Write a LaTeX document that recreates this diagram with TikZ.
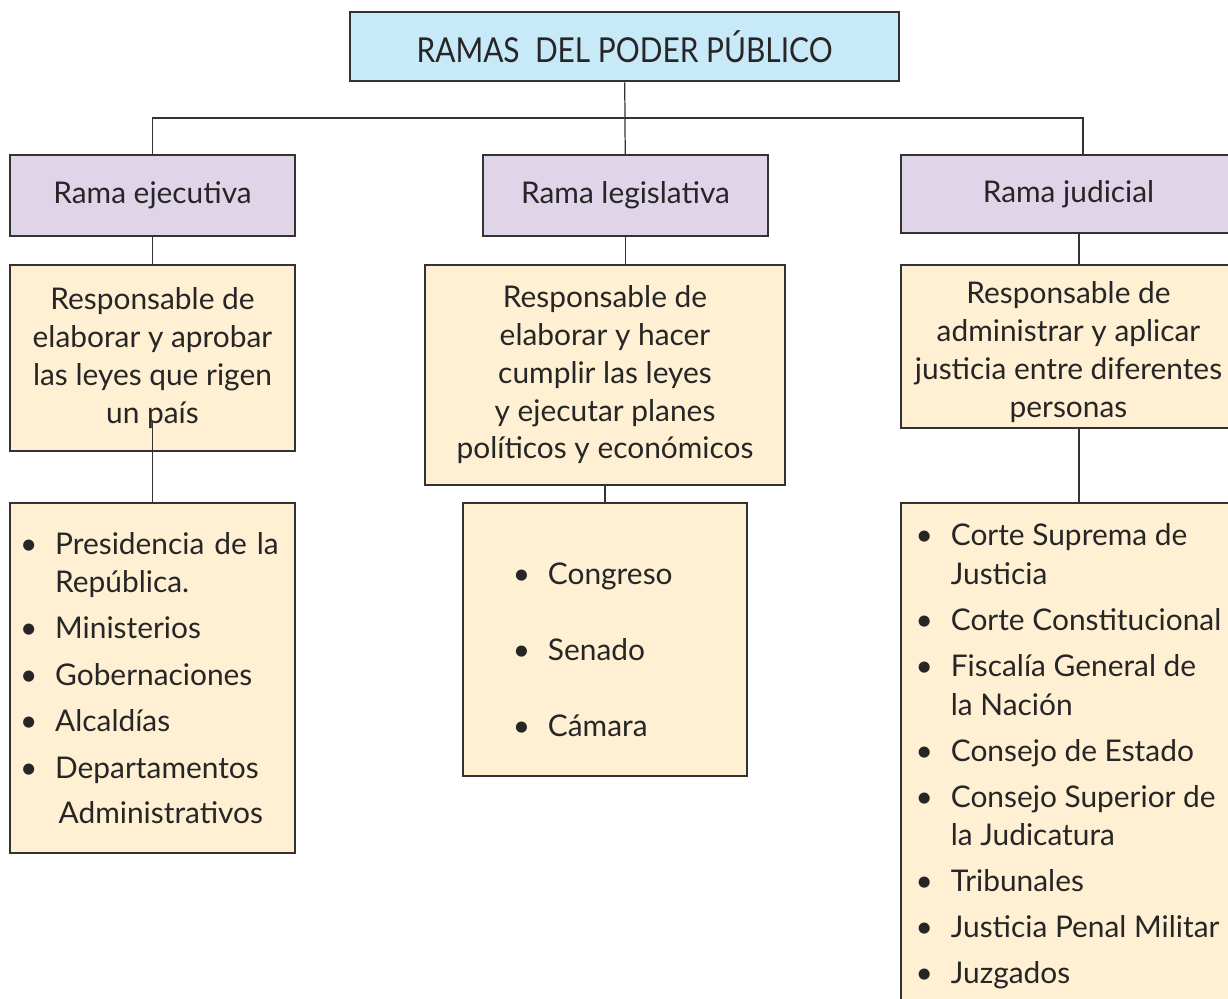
\documentclass[tikz,border=0pt]{standalone}
\usepackage{fontspec}
\setmainfont{Lato}
\usetikzlibrary{calc,positioning}

\definecolor{titleblue}{HTML}{C8E9F8}
\definecolor{ramalila}{HTML}{E0D4E8}
\definecolor{crema}{HTML}{FFEFD3}
\definecolor{borde}{HTML}{333333}

\newcommand{\itm}{\makebox[20pt][l]{\textbullet}}
\newcommand{\sangria}{\hspace*{20pt}}

\begin{document}
	\begin{tikzpicture}[x=0.02cm,y=-0.02cm]
		\tikzset{
			box/.style={draw=borde, line width=0.7pt, inner sep=0pt,
					font=\fontsize{17}{21.5}\selectfont, text=black!85},
			titlebox/.style={box, fill=titleblue, line width=1.5pt,
					minimum width=10.98cm, minimum height=1.38cm,
					font=\fontsize{17}{20}\selectfont},
			ramabox/.style={box, fill=ramalila, minimum height=1.62cm},
			descbox/.style={box, fill=crema, align=center},
			listbox/.style={box, fill=crema, align=left},
			link/.style={draw=borde, line width=0.7pt},
		}
		\clip (0,0) rectangle (1228,999);
		\fill[white] (0,0) rectangle (1228,999);
		%
		\node[titlebox] (title) at (624.5,46.5) {\scalebox{1}[1.15]{RAMAS\ \ DEL PODER PÚBLICO}};
		\coordinate (bus) at (625,118);
		%
		\node[ramabox, minimum width=5.7cm] (ejrama) at (152.5,195.5) {Rama ejecutiva};
		\node[ramabox, minimum width=5.7cm] (legrama) at (625.5,195.5) {Rama legislativa};
		\node[ramabox, minimum width=6.7cm, minimum height=1.56cm] (judrama) at (1068.5,194) {Rama judicial};
		%
		\node[descbox, minimum width=5.7cm, minimum height=3.72cm] (ejdesc) at (152.5,358)
			{Responsable de\\elaborar y aprobar\\las leyes que rigen\\un país};
		\node[descbox, minimum width=7.2cm, minimum height=4.4cm] (legdesc) at (605,375)
			{Responsable de\\elaborar y hacer\\cumplir las leyes\\y ejecutar planes\\políticos y económicos};
		\node[descbox, minimum width=6.7cm, minimum height=3.26cm] (juddesc) at (1068.5,346.5)
			{\rule{0pt}{19pt}Responsable de\\administrar y aplicar\\justicia entre diferentes\\personas};
		%
		\node[listbox, text width=5.3cm, inner xsep=0.2cm, minimum height=7cm] (ejlist) at (152.5,678)
			{\itm Presidencia de la\\\sangria República.\\[5pt]
			\itm Ministerios\\[5pt]
			\itm Gobernaciones\\[5pt]
			\itm Alcaldías\\[5pt]
			\itm Departamentos\\[4pt]
			\sangria\hspace*{2pt}Administrativos};
		\node[listbox, minimum width=5.68cm, minimum height=5.46cm] (leglist) at (605,639.5)
			{\rule{0pt}{24pt}\itm Congreso\hspace*{14pt}\\[22pt]
			\itm Senado\\[22pt]
			\itm Cámara};
		\node[listbox, minimum width=6.7cm, minimum height=10.14cm,
			font=\fontsize{17}{22}\selectfont] (judlist) at (1068.5,756.5)
			{\itm Corte Suprema de\\\sangria Justicia\\[4.2pt]
			\itm Corte Constitucional\\[4.2pt]
			\itm Fiscalía General de\\\sangria la Nación\\[4.2pt]
			\itm Consejo de Estado\\[4.2pt]
			\itm Consejo Superior de\\\sangria la Judicatura\\[4.2pt]
			\itm Tribunales\\[4.2pt]
			\itm Justicia Penal Militar\\[4.2pt]
			\itm Juzgados};
		%
		\path[link] (title) -- (legrama);
		\path[link] (ejrama.north) |- (bus) -| ($(judrama.north)+(14.5,0)$);
		\path[link] (ejrama) -- (ejdesc);
		\path[link] ($(ejdesc.south)+(0,-30)$) -- (ejlist);
		\path[link] (legrama) -- (legrama |- legdesc.north);
		\path[link] (legdesc) -- (leglist);
		\path[link] ($(judrama.south)+(10.5,0)$) -- ($(juddesc.north)+(10.5,0)$);
		\path[link] ($(juddesc.south)+(10.5,0)$) -- ($(judlist.north)+(10.5,0)$);
	\end{tikzpicture}
\end{document}
